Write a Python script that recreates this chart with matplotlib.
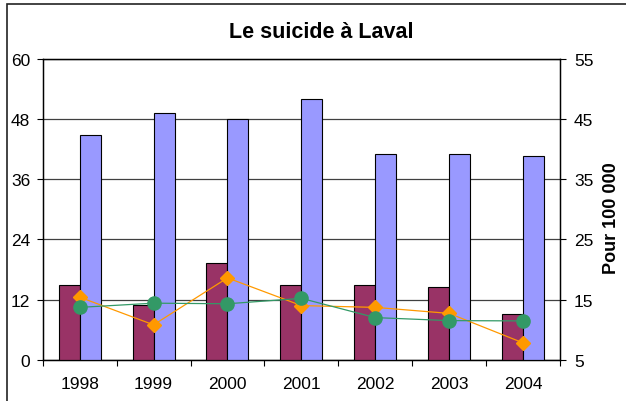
import matplotlib
matplotlib.use("Agg")
import matplotlib.pyplot as plt
from matplotlib.patches import Rectangle
import numpy as np

plt.rcParams['font.family'] = ['Liberation Sans', 'DejaVu Sans']

years = ["1998", "1999", "2000", "2001", "2002", "2003", "2004"]
nombre_laval = [15.0, 11.0, 19.3, 15.0, 15.0, 14.5, 9.1]
nombre_autre = [44.9, 49.3, 48.1, 52.0, 41.1, 41.1, 40.6]
taux_orange = [15.4, 10.8, 18.6, 14.0, 13.7, 12.7, 7.8]
taux_vert = [13.7, 14.4, 14.3, 15.2, 12.0, 11.5, 11.45]

left_ticks = [0, 12, 24, 36, 48, 60]
right_ticks = [5, 15, 25, 35, 45, 55]

W, H = 626, 402
fig = plt.figure(figsize=(W / 100, H / 100), dpi=100)
ax = fig.add_axes([42.7 / W, 1 - 360.7 / H, (560 - 42.7) / W, (360.7 - 60) / H])

x = np.arange(len(years))
bw = 0.284
ax.bar(x - bw / 2, nombre_laval, bw, color='#993366', edgecolor='black', linewidth=0.8, zorder=3)
ax.bar(x + bw / 2, nombre_autre, bw, color='#9999FF', edgecolor='black', linewidth=0.8, zorder=3)

ax.set_xlim(-0.5, len(years) - 0.5)
ax.set_ylim(0, 60)
ax.set_yticks(left_ticks)
ax.set_yticklabels([str(t) for t in left_ticks], fontsize=12.5)
ax.set_xticks(x)
ax.set_xticklabels(years, fontsize=12.5)
ax.tick_params(axis='x', which='major', length=0, pad=12)
ax.set_xticks(np.arange(-0.5, len(years)), minor=True)
ax.tick_params(axis='x', which='minor', length=4, width=0.8, direction='out')
ax.tick_params(axis='y', length=4, width=0.8, direction='out', pad=5)
ax.yaxis.grid(True, color='#404040', linewidth=0.9, zorder=0)
ax.set_axisbelow(True)
for s in ax.spines.values():
    s.set_linewidth(1.0)
    s.set_color('black')

ax2 = ax.twinx()
ax2.plot(x, taux_orange, color='#FF9900', linewidth=0.9, marker='D', markersize=7, zorder=4)
ax2.plot(x, taux_vert, color='#339966', linewidth=0.9, marker='o', markersize=9.5, zorder=5)
ax2.set_ylim(5, 55)
ax2.set_yticks(right_ticks)
ax2.set_yticklabels([str(t) for t in right_ticks], fontsize=12.5)
ax2.tick_params(axis='y', length=4, width=0.8, direction='out', pad=6)
ax2.set_xlim(-0.5, len(years) - 0.5)

fig.text(321 / W, 1 - 33 / H, "Le suicide à Laval", fontsize=15.5, fontweight='bold',
         ha='center', va='center')
fig.text(612 / W, 1 - 218 / H, "Pour 100 000", fontsize=13, fontweight='bold',
         rotation=90, ha='center', va='center')

fig.add_artist(Rectangle((7 / W, -0.05), 1.2, 1.05 - 5 / H, transform=fig.transFigure,
                         fill=False, edgecolor='#222222', linewidth=1.2))

fig.savefig("out.png", dpi=100)
